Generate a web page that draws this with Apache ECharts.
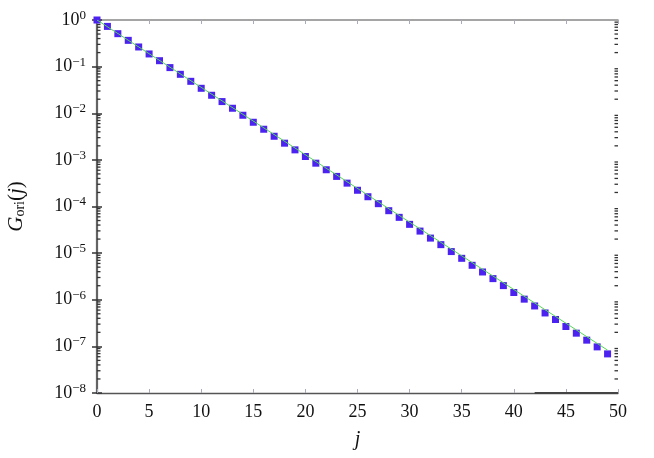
<!DOCTYPE html>
<html>
<head>
<meta charset="utf-8">
<script src="https://cdn.jsdelivr.net/npm/echarts@6/dist/echarts.min.js"></script>
<style>html,body{margin:0;padding:0;background:#fff;}#c{width:654px;height:458px;}</style>
</head>
<body>
<div id="c"></div>
<script>
const jValues = [0,1,2,3,4,5,6,7,8,9,10,11,12,13,14,15,16,17,18,19,20,21,22,23,24,25,26,27,28,29,30,31,32,33,34,35,36,37,38,39,40,41,42,43,44,45,46,47,48,49];
const gValues = [1, 0.729, 0.509, 0.366, 0.264, 0.187, 0.134, 0.0953, 0.0684, 0.0484,
  0.0343, 0.0243, 0.0178, 0.0128, 0.00906, 0.00641, 0.00454, 0.00321, 0.00228, 0.00164,
  0.00118, 0.000849, 0.000614, 0.000442, 0.000317, 0.000223, 0.000162, 0.000115, 0.0000813, 0.0000585,
  0.0000414, 0.0000297, 0.0000210, 0.0000152, 0.0000108, 0.00000774, 0.00000548, 0.00000394, 0.00000284, 0.00000201,
  0.00000143, 0.00000103, 7.36e-7, 5.21e-7, 3.77e-7, 2.67e-7, 1.92e-7, 1.36e-7, 9.75e-8, 6.90e-8];
const fitJ = [0, 49];
const fitG = [1, 8.3e-8];
const xTicks = [0,5,10,15,20,25,30,35,40,45,50];
const yDecades = [1e-8,1e-7,1e-6,1e-5,1e-4,1e-3,1e-2,1e-1,1];
const minorMultipliers = [2,3,4,5,6,7,8,9];
const baseSegment = [[42, 1e-8], [50, 1e-8]];

const minorTickVals = [];
yDecades.slice(0, -1).forEach(d => minorMultipliers.forEach(m => minorTickVals.push([0, d * m])));

const FONT = 'Liberation Serif';
const richLabel = {
  b: { fontSize: 18, fontFamily: FONT, color: '#111' },
  e: { fontSize: 13, fontFamily: FONT, color: '#111', padding: [0, 0, 9, 0] }
};

const chart = echarts.init(document.getElementById('c'), null, { renderer: 'canvas' });
chart.setOption({
  animation: false,
  backgroundColor: '#fff',
  grid: { left: 97, right: 36, top: 20, bottom: 65, containLabel: false, outerBoundsMode: 'none' },
  xAxis: [{
    type: 'value', min: 0, max: 50, interval: 5, position: 'bottom',
    name: 'j', nameLocation: 'middle', nameGap: 37,
    nameTextStyle: { fontFamily: FONT, fontStyle: 'italic', fontSize: 20, color: '#111' },
    axisLine: { show: true, lineStyle: { color: '#555', width: 1.3 } },
    axisTick: { show: true, inside: true, length: 4, lineStyle: { color: '#aab', width: 1 } },
    axisLabel: { fontFamily: FONT, fontSize: 18, color: '#111', margin: 10,
      formatter: v => xTicks.indexOf(v) >= 0 ? String(v) : '' },
    splitLine: { show: false }
  }, {
    type: 'value', min: 0, max: 50, interval: 5, position: 'top',
    axisLine: { show: true, lineStyle: { color: '#888', width: 1.5 } },
    axisTick: { show: true, inside: true, length: 4, lineStyle: { color: '#aab', width: 1 } },
    axisLabel: { show: false }, splitLine: { show: false }
  }],
  yAxis: [{
    type: 'log', logBase: 10, min: 1e-8, max: 1, splitNumber: 8, position: 'left',
    name: '{i|G}{s|ori}{p|(}{i|j}{p|)}', nameLocation: 'middle', nameGap: 70, nameRotate: 90,
    nameTextStyle: { rich: {
      i: { fontFamily: FONT, fontStyle: 'italic', fontSize: 21, color: '#111' },
      s: { fontFamily: FONT, fontSize: 14, color: '#111', padding: [7, 0, 0, 0] },
      p: { fontFamily: FONT, fontSize: 21, color: '#111' }
    } },
    axisLine: { show: true, lineStyle: { color: '#555', width: 2.2 } },
    axisTick: { show: true, inside: true, length: 5, lineStyle: { color: '#333', width: 1.5 } },
    axisLabel: { margin: 11, rich: richLabel,
      formatter: v => '{b|10}{e|' + String(Math.round(Math.log10(v))).replace('-', '\u2212') + '}' },
    splitLine: { show: false }
  }, {
    type: 'log', logBase: 10, min: 1e-8, max: 1, splitNumber: 8, position: 'right',
    axisLine: { show: true, lineStyle: { color: '#666', width: 1.8 } },
    axisTick: { show: true, inside: true, length: 5, lineStyle: { color: '#333', width: 1.5 } },
    axisLabel: { show: false }, splitLine: { show: false }
  }],
  series: [{
    type: 'custom', xAxisIndex: 0, yAxisIndex: 0, silent: true, z: 1,
    data: minorTickVals,
    renderItem: function (params, api) {
      const cs = params.coordSys;
      const y = api.coord([0, api.value(1)])[1];
      return { type: 'group', children: [
        { type: 'line', shape: { x1: cs.x, y1: y, x2: cs.x + 3.5, y2: y }, style: { stroke: '#333', lineWidth: 1.3 } },
        { type: 'line', shape: { x1: cs.x + cs.width - 3.5, y1: y, x2: cs.x + cs.width, y2: y }, style: { stroke: '#333', lineWidth: 1.3 } }
      ] };
    }
  }, {
    type: 'scatter', xAxisIndex: 0, yAxisIndex: 0, z: 2,
    data: jValues.map((j, i) => [j, gValues[i]]),
    symbol: 'rect', symbolSize: 7,
    itemStyle: { color: '#4b22f0', opacity: 1 }
  }, {
    type: 'line', xAxisIndex: 0, yAxisIndex: 0, z: 3,
    data: fitJ.map((j, i) => [j, fitG[i]]),
    showSymbol: false, symbol: 'none',
    lineStyle: { color: '#55d855', width: 1 },
    markLine: { silent: true, symbol: 'none', label: { show: false },
      lineStyle: { color: '#444', width: 2.2, type: 'solid' },
      data: [[{ coord: baseSegment[0] }, { coord: baseSegment[1] }]] }
  }]
});
</script>
</body>
</html>
